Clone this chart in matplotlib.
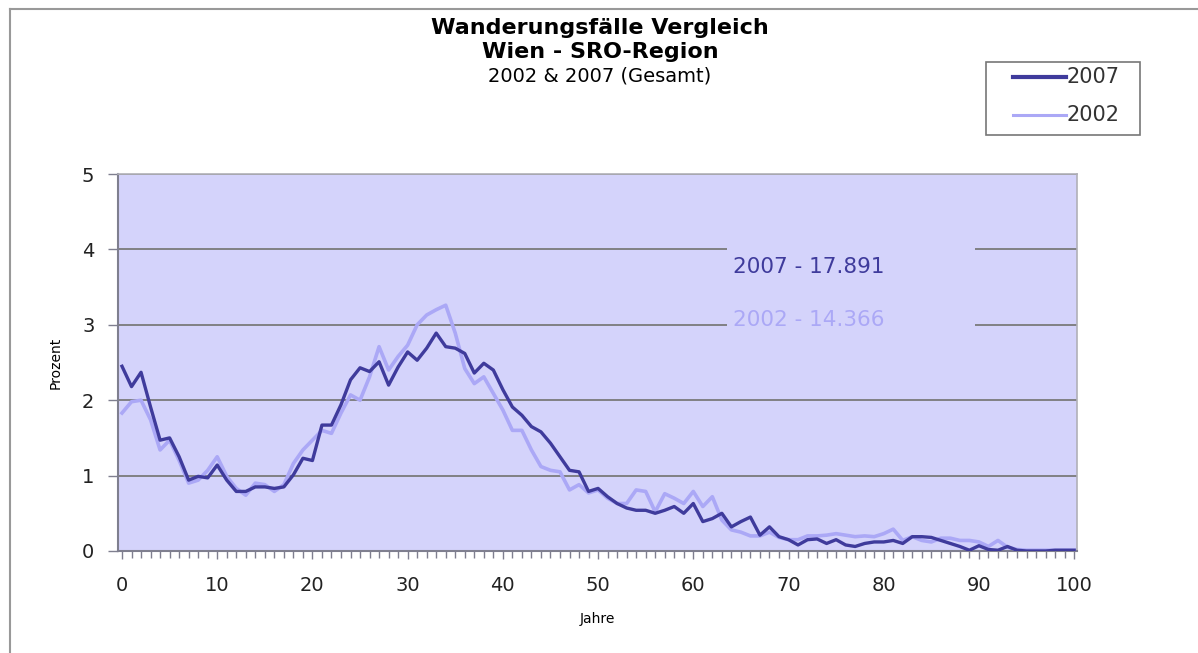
import matplotlib
matplotlib.use("Agg")
import matplotlib.pyplot as plt
from matplotlib.lines import Line2D
from matplotlib.patches import Rectangle

plt.rcParams['font.family'] = ['DejaVu Sans']

ages = list(range(0, 101))
values_2007 = [2.45, 2.18, 2.37, 1.91, 1.47, 1.50, 1.25, 0.94, 0.99, 0.97,
               1.14, 0.94, 0.79, 0.79, 0.85, 0.85, 0.83, 0.85, 1.01, 1.23,
               1.20, 1.67, 1.67, 1.94, 2.27, 2.43, 2.38, 2.51, 2.20, 2.44,
               2.64, 2.53, 2.69, 2.89, 2.71, 2.69, 2.62, 2.36, 2.49, 2.40,
               2.14, 1.91, 1.80, 1.65, 1.58, 1.43, 1.25, 1.07, 1.05, 0.79,
               0.83, 0.72, 0.63, 0.57, 0.54, 0.54, 0.50, 0.54, 0.59, 0.50,
               0.63, 0.39, 0.43, 0.50, 0.32, 0.39, 0.45, 0.21, 0.32, 0.19,
               0.15, 0.08, 0.15, 0.16, 0.10, 0.15, 0.08, 0.06, 0.10, 0.12,
               0.12, 0.14, 0.10, 0.19, 0.19, 0.18, 0.14, 0.10, 0.06, 0.01,
               0.07, 0.02, 0.01, 0.06, 0.01, 0.00, 0.00, 0.00, 0.01, 0.01,
               0.01]
values_2002 = [1.83, 1.98, 2.00, 1.74, 1.34, 1.47, 1.20, 0.90, 0.94, 1.07,
               1.25, 0.99, 0.83, 0.74, 0.90, 0.88, 0.79, 0.88, 1.16, 1.34,
               1.47, 1.60, 1.56, 1.83, 2.07, 2.00, 2.31, 2.71, 2.40, 2.58,
               2.73, 3.00, 3.13, 3.20, 3.26, 2.89, 2.42, 2.22, 2.31, 2.09,
               1.87, 1.60, 1.60, 1.34, 1.12, 1.07, 1.05, 0.81, 0.88, 0.77,
               0.81, 0.70, 0.63, 0.63, 0.81, 0.79, 0.52, 0.76, 0.70, 0.63,
               0.79, 0.59, 0.72, 0.41, 0.28, 0.25, 0.20, 0.20, 0.25, 0.18,
               0.15, 0.15, 0.20, 0.20, 0.21, 0.23, 0.21, 0.19, 0.20, 0.19,
               0.23, 0.29, 0.14, 0.19, 0.14, 0.12, 0.17, 0.17, 0.14, 0.14,
               0.12, 0.06, 0.14, 0.05, 0.02, 0.01, 0.01, 0.01, 0.01, 0.01,
               0.01]
x_ticks = [0, 10, 20, 30, 40, 50, 60, 70, 80, 90, 100]
y_ticks = [0, 1, 2, 3, 4, 5]
series_labels = ['2007', '2002']
title_lines = ["Wanderungsfälle Vergleich", "Wien - SRO-Region", "2002 & 2007 (Gesamt)"]
annot_2007 = "2007 - 17.891"
annot_2002 = "2002 - 14.366"

DARK = '#3f3b9c'
LIGHT = '#aba8f6'
BG = '#d4d3fb'
W, H = 1198, 653

fig = plt.figure(figsize=(W / 100, H / 100), dpi=100)
ax = fig.add_axes([118/W, 1 - 551/H, (1077-118)/W, (551-174)/H])
ax.set_facecolor(BG)

ax.plot(ages, values_2002, color=LIGHT, lw=2.6, label=series_labels[1], zorder=3, solid_joinstyle='round')
ax.plot(ages, values_2007, color=DARK, lw=2.4, label=series_labels[0], zorder=4, solid_joinstyle='round')

ax.set_xlim(-0.42, 100.3)
ax.set_ylim(0, 5)
ax.set_xticks(x_ticks)
ax.set_xticks(ages, minor=True)
ax.set_yticks(y_ticks)
ax.set_axisbelow(True)
ax.yaxis.grid(True, color='#7a7a7a', lw=1.3)
ax.tick_params(axis='x', which='major', length=6, width=1, color='#7f7f8f', labelsize=14, pad=12, labelcolor='#222222')
ax.tick_params(axis='x', which='minor', length=5, width=1, color='#7f7f8f')
ax.tick_params(axis='y', length=7, width=1, color='#7f7f8f', labelsize=14, pad=10, labelcolor='#222222')
for s in ['top', 'right']:
    ax.spines[s].set_color('#b0b0b8')
    ax.spines[s].set_linewidth(1.2)
for s in ['left', 'bottom']:
    ax.spines[s].set_color('#7f7f8f')
    ax.spines[s].set_linewidth(1.5)

ax.set_xlabel('Jahre', fontsize=10, labelpad=12)
ax.set_ylabel('Prozent', fontsize=10, labelpad=14)

# mask gridlines behind annotation labels
ax.add_patch(Rectangle((63.55, 2.9), 89.6 - 63.55, 1.2, facecolor=BG, edgecolor='none', zorder=1))
ax.text(64.2, 3.77, annot_2007, color=DARK, fontsize=15.5, va='center', ha='left', zorder=5)
ax.text(64.2, 3.06, annot_2002, color=LIGHT, fontsize=15.5, va='center', ha='left', zorder=5)

# titles
fig.text(600/W, 1 - 28/H, title_lines[0], ha='center', va='center', fontsize=16, fontweight='bold')
fig.text(600/W, 1 - 52/H, title_lines[1], ha='center', va='center', fontsize=16, fontweight='bold')
fig.text(600/W, 1 - 76/H, title_lines[2], ha='center', va='center', fontsize=14)

# legend drawn as a framed box with sample lines
fig.add_artist(Rectangle((986/W, 1 - 135/H), (1140-986)/W, (135-62)/H, transform=fig.transFigure,
                         facecolor='white', edgecolor='#777777', lw=1.2))
legend_rows = [(series_labels[0], DARK, 3.0, 77), (series_labels[1], LIGHT, 2.2, 115)]
for lab, col, lw, ypx in legend_rows:
    fig.add_artist(Line2D([1013/W, 1066/W], [1 - ypx/H, 1 - ypx/H], color=col, lw=lw, transform=fig.transFigure))
    fig.text(1067/W, 1 - ypx/H, lab, ha='left', va='center', fontsize=15, color='#333333')

# outer chart border
fig.add_artist(Line2D([10/W, 1], [1 - 9/H, 1 - 9/H], color='#999999', lw=1.5, transform=fig.transFigure))
fig.add_artist(Line2D([10/W, 10/W], [1 - 9/H, 0], color='#999999', lw=1.5, transform=fig.transFigure))

fig.savefig('out.png', dpi=100)
